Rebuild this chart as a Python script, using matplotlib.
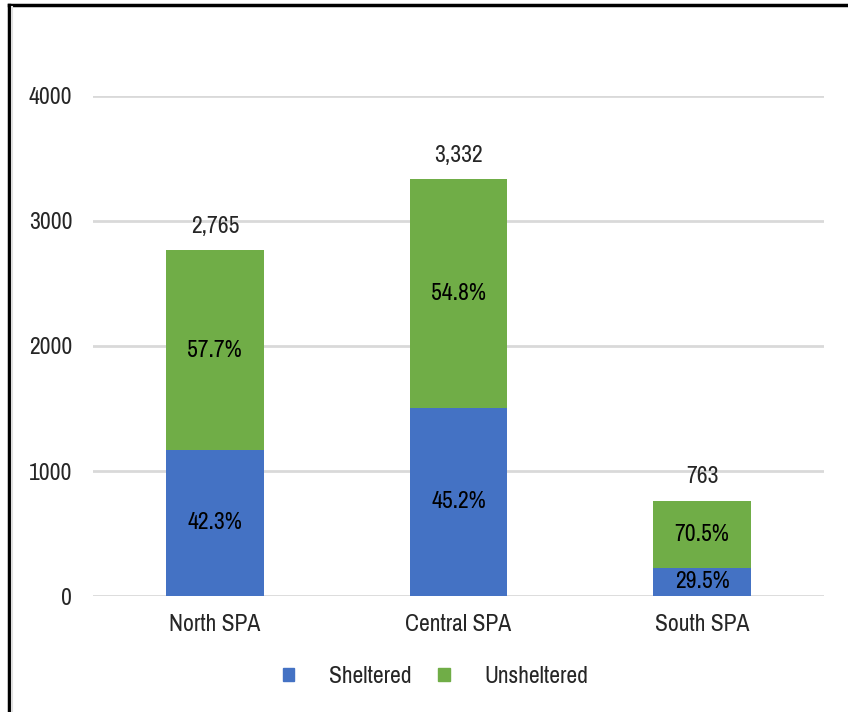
import matplotlib
matplotlib.use("Agg")
import matplotlib.pyplot as plt
from matplotlib.lines import Line2D
from matplotlib.patches import Patch

# dados do grafico
regioes = ["North SPA", "Central SPA", "South SPA"]
abrigados = [1170, 1506, 225]
sem_abrigo = [1595, 1826, 538]
totais = ["2,765", "3,332", "763"]
pct_abrigados = ["42.3%", "45.2%", "29.5%"]
pct_sem_abrigo = ["57.7%", "54.8%", "70.5%"]
yticks = [0, 1000, 2000, 3000, 4000]

azul = "#4472C4"
verde = "#70AD47"
tam = 17

plt.rcParams['font.family'] = ['Archivo Narrow', 'DejaVu Sans']

fig = plt.figure(figsize=(8.48, 7.12), dpi=100)
ax = fig.add_axes([0.1097, 0.1629, 0.862, 0.7023])

x = range(len(regioes))
ax.bar(x, abrigados, width=0.4, color=azul, zorder=3)
ax.bar(x, sem_abrigo, width=0.4, bottom=abrigados, color=verde, zorder=3)

# rotulos dentro das barras e totais
for i in x:
    ax.text(i, abrigados[i] / 2, pct_abrigados[i], ha='center', va='center',
            fontsize=tam, color='black', zorder=4)
    ax.text(i, abrigados[i] + sem_abrigo[i] / 2, pct_sem_abrigo[i], ha='center',
            va='center', fontsize=tam, color='black', zorder=4)
    ax.text(i, abrigados[i] + sem_abrigo[i] + 190, totais[i], ha='center',
            va='center', fontsize=tam, color='#262626', zorder=4)

ax.set_xlim(-0.5, 2.5)
ax.set_ylim(0, 4000)
ax.set_yticks(yticks)
ax.set_yticklabels([str(v) for v in yticks])
ax.set_xticks(list(x))
ax.set_xticklabels(regioes)
ax.tick_params(axis='both', length=0, labelsize=tam, colors='#262626')
ax.tick_params(axis='y', pad=15)
ax.tick_params(axis='x', pad=13)
ax.grid(axis='y', color='#d9d9d9', linewidth=2, zorder=0)
for lado in ['top', 'right', 'left', 'bottom']:
    ax.spines[lado].set_visible(False)

# legenda
handles = [Patch(color=azul, label="Sheltered"), Patch(color=verde, label="Unsheltered")]
fig.legend(handles=handles, loc='center', bbox_to_anchor=(0.5136, 0.05), ncol=2,
           frameon=False, fontsize=tam, handlelength=0.5, handleheight=0.5,
           handletextpad=1.45, columnspacing=1.15, labelcolor='#262626')

# moldura preta (esquerda e topo)
fig.add_artist(Line2D([0.0112, 0.0112], [0, 0.993], color='black', linewidth=2.5,
                      transform=fig.transFigure))
fig.add_artist(Line2D([0.0112, 1.0], [0.993, 0.993], color='black', linewidth=2.5,
                      transform=fig.transFigure))
fig.add_artist(Line2D([0.0145, 0.0145], [0, 0.99], color='#e0e0e0', linewidth=1.5,
                      transform=fig.transFigure))

fig.savefig("out.png", dpi=100)
